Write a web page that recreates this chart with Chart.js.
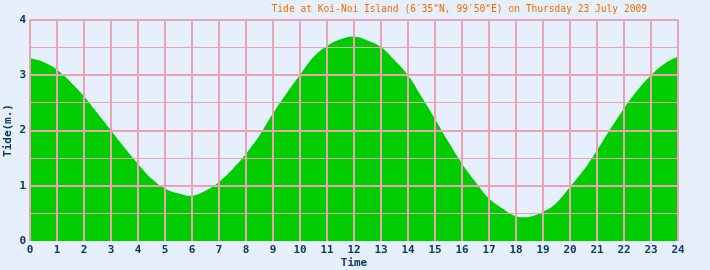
<!DOCTYPE html>
<html>
<head>
<meta charset="utf-8">
<script src="https://cdn.jsdelivr.net/npm/chart.js@4"></script>
<style>
  body { margin: 0; background: #e6f0fc; }
  #tideChart { display: block; }
</style>
</head>
<body>
<canvas id="tideChart" width="710" height="270"></canvas>
<script>
const chartTitle = "Tide at Koi-Noi Island (6\u203235\"N, 99\u203250\"E) on Thursday 23 July 2009";

// half-hourly readings, hour 0 to 24
const hours = [0, 0.5, 1, 1.5, 2, 2.5, 3, 3.5, 4, 4.5, 5, 5.5, 6, 6.5, 7, 7.5, 8, 8.5,
    9, 9.5, 10, 10.5, 11, 11.5, 12, 12.5, 13, 13.5, 14, 14.5, 15, 15.5, 16, 16.5,
    17, 17.5, 18, 18.5, 19, 19.5, 20, 20.5, 21, 21.5, 22, 22.5, 23, 23.5, 24];
const tideLevels = [3.31, 3.24, 3.10, 2.88, 2.62, 2.31, 2.00, 1.69, 1.40, 1.13, 0.95, 0.86,
    0.82, 0.91, 1.07, 1.30, 1.58, 1.91, 2.31, 2.67, 3.01, 3.33, 3.53, 3.65, 3.70, 3.63,
    3.51, 3.27, 3.00, 2.61, 2.21, 1.79, 1.40, 1.07, 0.77, 0.59, 0.45, 0.44, 0.53, 0.69,
    0.98, 1.28, 1.64, 2.03, 2.40, 2.73, 3.00, 3.21, 3.34];

const pink = "#e9a3b4";
const navy = "#0b3866";
const tickFont = { family: "'DejaVu Sans Mono', monospace", size: 11, weight: "bold" };

const titlePlugin = {
    id: "topTitle",
    afterDraw(chart) {
        const ctx = chart.ctx;
        ctx.save();
        ctx.font = "9.6px 'DejaVu Sans Mono', monospace";
        ctx.fillStyle = "#ff6a00";
        ctx.textAlign = "right";
        ctx.textBaseline = "alphabetic";
        ctx.fillText(chartTitle, 647, 12);
        ctx.restore();
    }
};

const ctx = document.getElementById("tideChart").getContext("2d");
new Chart(ctx, {
    type: "line",
    data: {
        datasets: [{
            data: hours.map((h, i) => ({ x: h, y: tideLevels[i] })),
            fill: "origin",
            backgroundColor: "#00cc00",
            borderWidth: 0,
            pointRadius: 0,
            tension: 0.4
        }]
    },
    options: {
        responsive: false,
        animation: false,
        layout: { padding: { top: 20, right: 32, left: 0, bottom: 0 } },
        plugins: { legend: { display: false }, tooltip: { enabled: false } },
        scales: {
            x: {
                type: "linear",
                min: 0,
                max: 24,
                afterFit: s => { s.height = 29; },
                border: { display: false },
                grid: { color: pink, lineWidth: 2, drawTicks: false, z: 1 },
                ticks: { stepSize: 1, autoSkip: false, maxRotation: 0, padding: 3, color: navy, font: tickFont },
                title: { display: true, text: "Time", color: navy, font: tickFont, padding: { top: 0, bottom: 0 } }
            },
            y: {
                min: 0,
                max: 4,
                afterFit: s => { s.width = 30; },
                border: { display: false },
                grid: {
                    color: c => c.tick.value === 0 ? "rgba(0,0,0,0)" : pink,
                    lineWidth: c => Number.isInteger(c.tick.value) ? 2 : 1,
                    drawTicks: false,
                    z: 1
                },
                ticks: {
                    stepSize: 0.5,
                    autoSkip: false,
                    padding: 4,
                    color: navy,
                    font: tickFont,
                    callback: v => Number.isInteger(v) ? v : ""
                },
                title: { display: true, text: "Tide(m.)", color: navy, font: tickFont, padding: { top: 2, bottom: 0 } }
            }
        }
    },
    plugins: [titlePlugin]
});
</script>
</body>
</html>
